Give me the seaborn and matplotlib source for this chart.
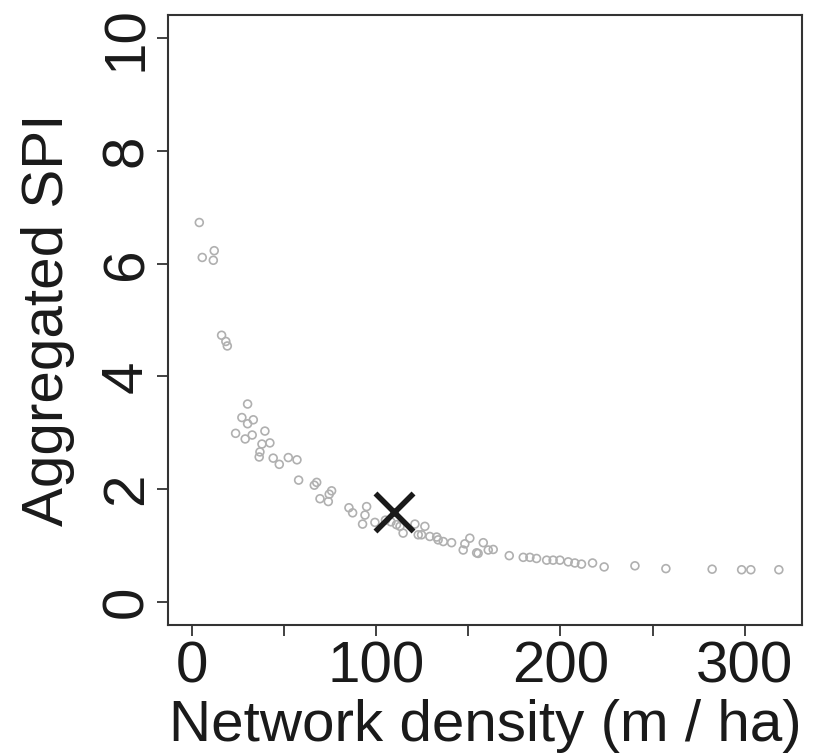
import seaborn as sns
import pandas as pd
import numpy as np
import matplotlib.pyplot as plt

# network density (m / ha) and aggregated SPI
density = [4.0, 5.6, 12.1, 11.6, 16.1, 18.4, 19.2, 30.2, 27.1, 33.3,
           30.2, 23.7, 28.9, 32.7, 39.6, 42.3, 38.0, 36.9, 36.5, 44.1,
           47.4, 52.3, 57.0, 57.9, 66.4, 67.7, 75.8, 74.5, 69.5, 74.0,
           85.2, 87.2, 94.8, 93.9, 92.6, 99.3, 114.6, 112.9, 121.0, 126.4,
           124.6, 132.8, 136.4, 140.9, 148.1, 150.8, 147.2, 154.5, 158.1, 160.8,
           163.5, 155.3, 172.2, 179.8, 183.4, 187.0, 192.5, 196.0, 199.7, 204.2,
           207.8, 211.4, 217.4, 223.7, 240.4, 257.2, 282.3, 298.3, 303.3, 318.5,
           111.0, 122.8, 129.1, 133.6, 105.0, 108.0]
spi = [6.73, 6.11, 6.23, 6.06, 4.73, 4.62, 4.54, 3.51, 3.27, 3.23,
       3.16, 2.99, 2.89, 2.96, 3.03, 2.82, 2.80, 2.66, 2.57, 2.55,
       2.44, 2.56, 2.52, 2.16, 2.07, 2.12, 1.97, 1.91, 1.83, 1.78,
       1.67, 1.58, 1.69, 1.54, 1.38, 1.41, 1.22, 1.34, 1.38, 1.34,
       1.19, 1.15, 1.07, 1.05, 1.03, 1.13, 0.92, 0.87, 1.05, 0.92,
       0.93, 0.86, 0.82, 0.79, 0.79, 0.77, 0.74, 0.74, 0.74, 0.71,
       0.69, 0.67, 0.69, 0.62, 0.64, 0.59, 0.58, 0.57, 0.57, 0.57,
       1.37, 1.19, 1.16, 1.10, 1.45, 1.42]

# highlighted case
case_density = [109.9]
case_spi = [1.59]

xticks = [0, 100, 200, 300]
yticks = [0, 2, 4, 6, 8, 10]

df = pd.DataFrame({'density': density, 'spi': spi})
case = pd.DataFrame({'density': case_density, 'spi': case_spi})

sns.set_style('ticks')
plt.rcParams['font.family'] = ['Liberation Sans', 'DejaVu Sans']

fig = plt.figure(figsize=(8.19, 7.53), dpi=100)
ax = fig.add_axes([0.2051, 0.170, 0.774, 0.810])

sns.scatterplot(data=df, x='density', y='spi', ax=ax, marker='o', s=32,
                facecolor='none', edgecolor='#b0b0b0', linewidth=1.2)
sns.scatterplot(data=case, x='density', y='spi', ax=ax, marker='x', s=750,
                color='#1a1a1a', linewidth=4)

ax.set_xlim(-13, 331)
ax.set_ylim(-0.41, 10.41)
ax.set_xticks(np.arange(0, 301, 50))
ax.set_xticklabels([str(t) if t in xticks else '' for t in range(0, 301, 50)])
ax.set_yticks(yticks)
ax.set_yticklabels([str(t) for t in yticks], rotation=90, va='center')

for s in ax.spines.values():
    s.set_linewidth(1.5)
    s.set_color('#333333')
ax.tick_params(axis='both', length=8, width=1.3, color='#333333',
               labelsize=42, labelcolor='#1a1a1a')
ax.tick_params(axis='x', pad=3.5)
ax.tick_params(axis='y', pad=2)

ax.set_xlabel('Network density (m / ha)', fontsize=42, color='#1a1a1a')
ax.set_ylabel('Aggregated SPI', fontsize=42, color='#1a1a1a')
ax.xaxis.set_label_coords(0.5, -0.121)
ax.yaxis.set_label_coords(-0.147, 0.5)

fig.savefig('out.png', dpi=100)
